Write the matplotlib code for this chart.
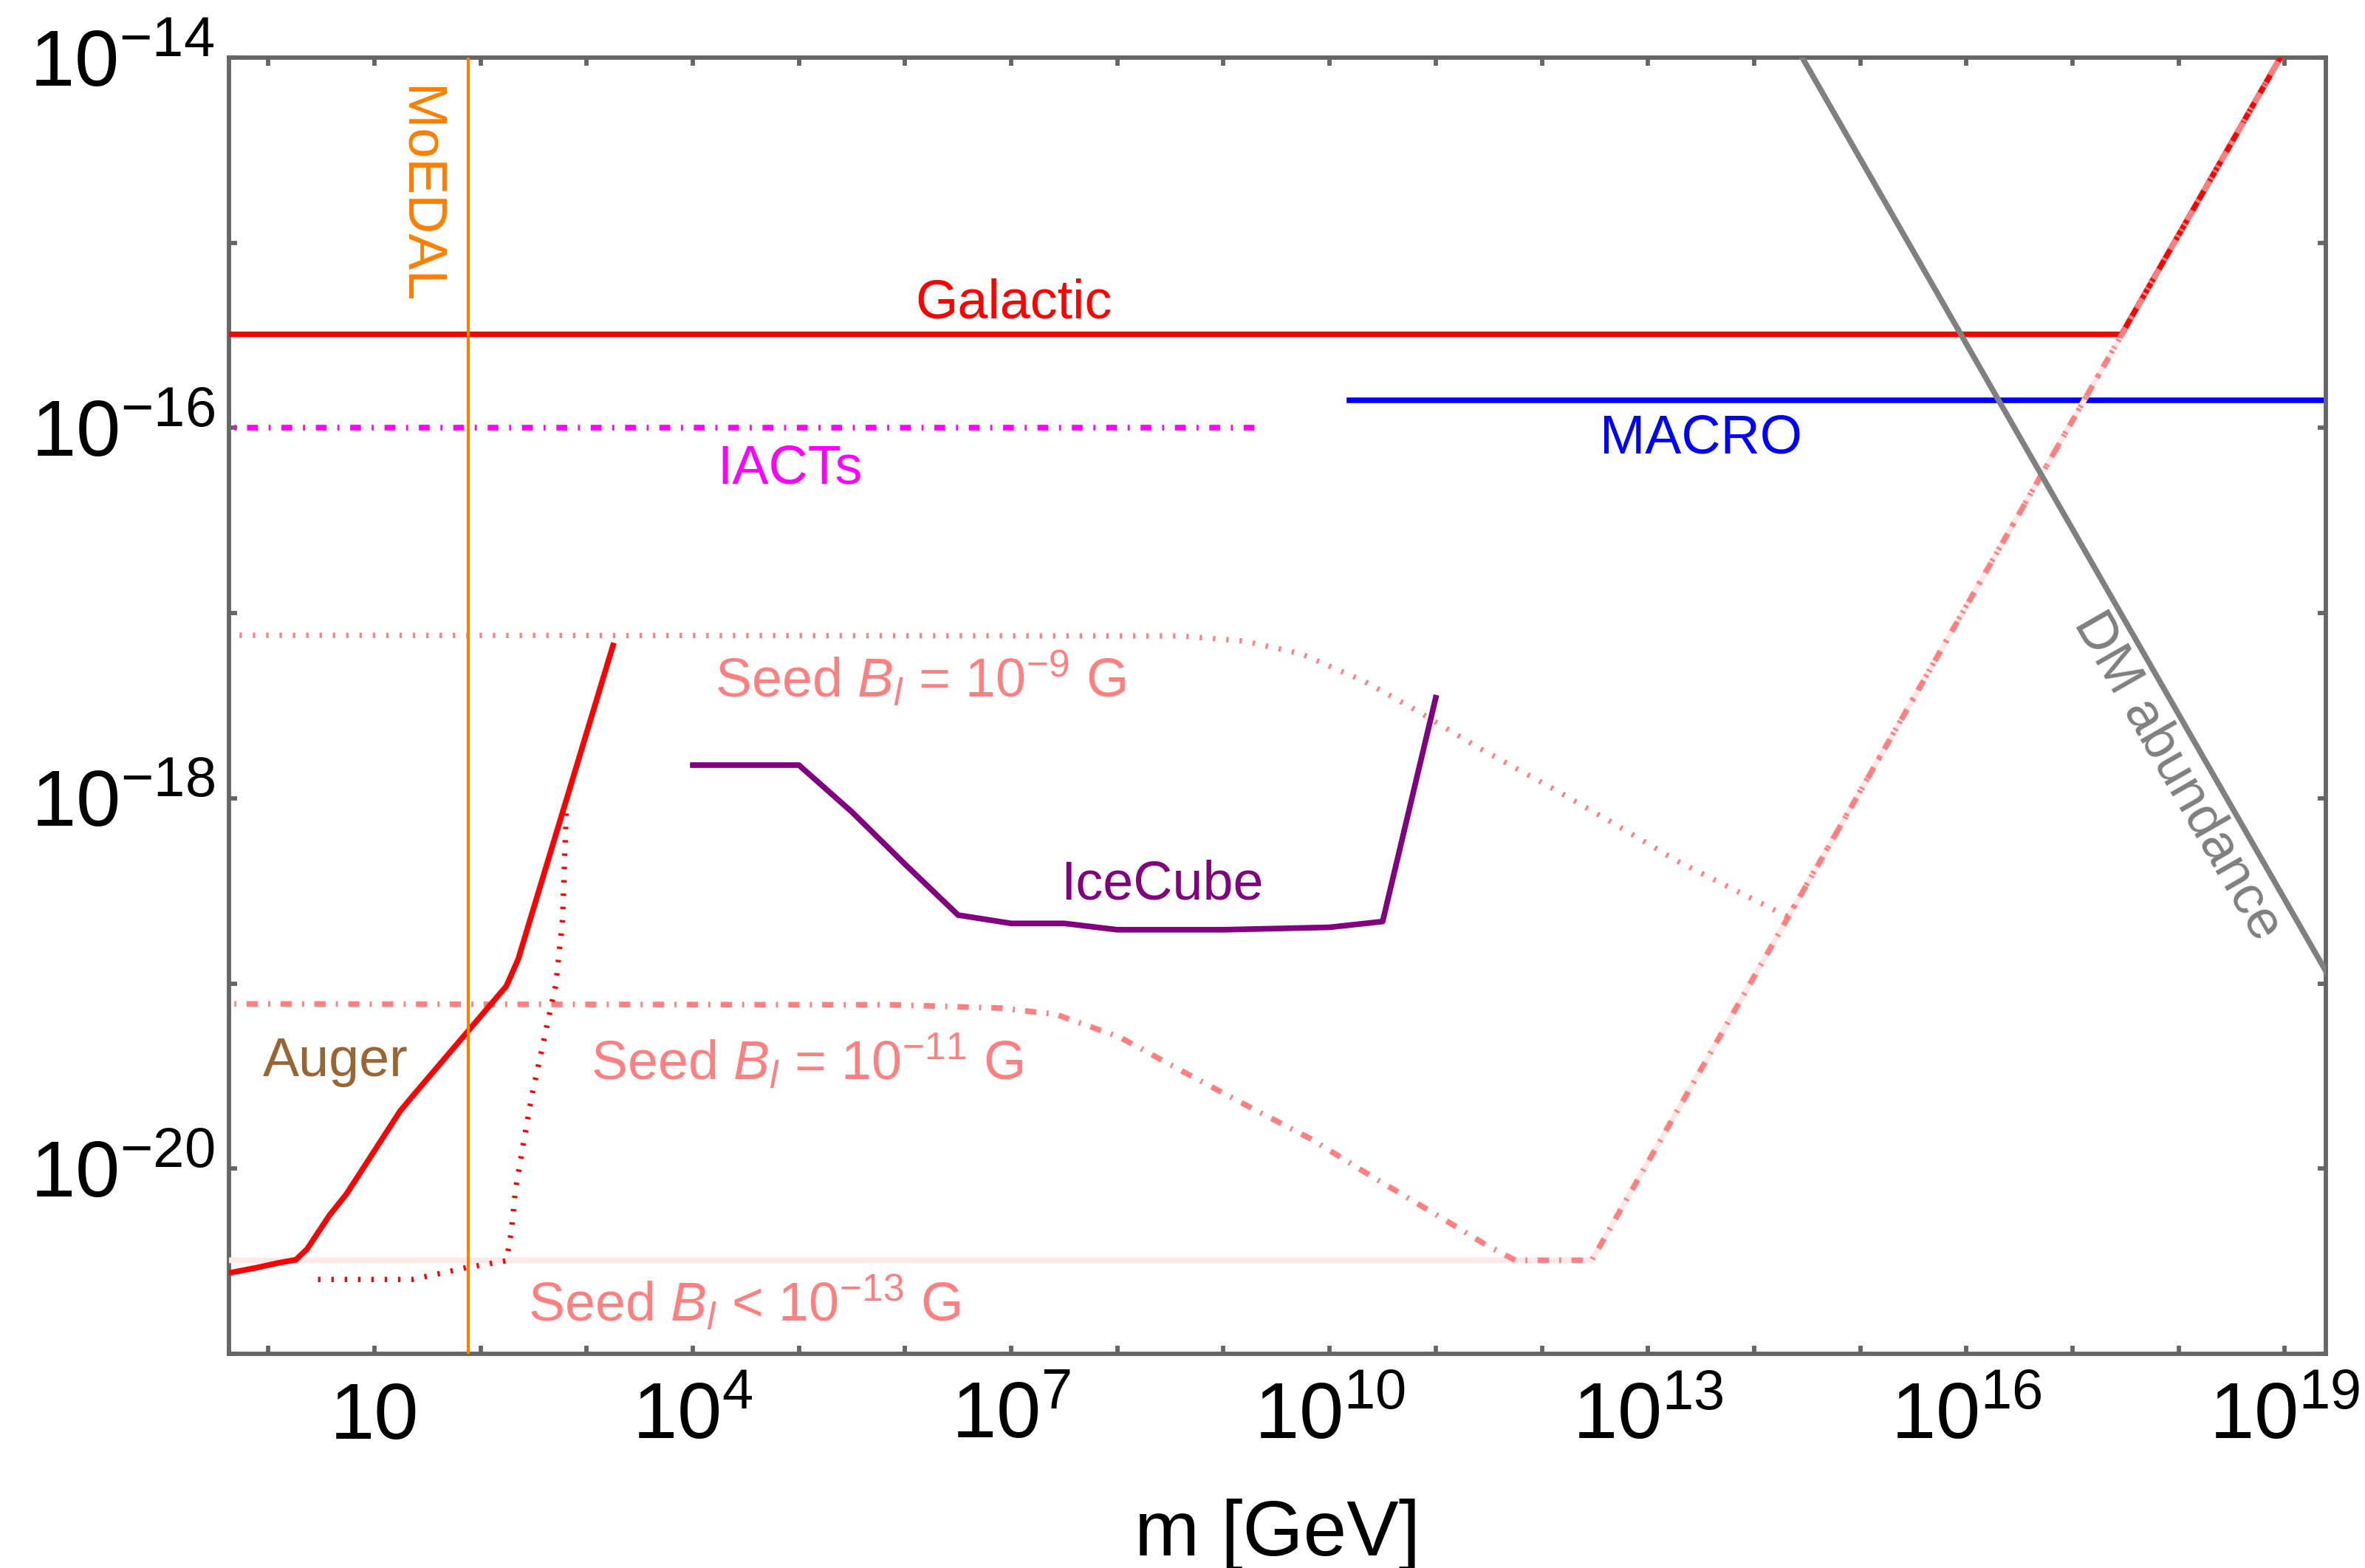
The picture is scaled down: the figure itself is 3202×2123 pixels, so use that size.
import matplotlib
matplotlib.use("Agg")
import matplotlib.pyplot as plt
from matplotlib.ticker import FixedLocator, FixedFormatter, NullLocator

plt.rcParams['font.family'] = ['Liberation Sans', 'DejaVu Sans']
plt.rcParams['mathtext.fontset'] = 'custom'
plt.rcParams['mathtext.rm'] = 'Liberation Sans'
plt.rcParams['mathtext.it'] = 'Liberation Sans:italic'
plt.rcParams['lines.scale_dashes'] = False

# ---- data: monopole mass m [GeV] vs flux bound ----
galactic_m = [0.3, 2.9e17, 3e19]
galactic_f = [3.2e-16, 3.2e-16, 3.3e-14]

iacts_m = [0.3, 2.03e9]
iacts_f = [1e-16, 1e-16]

macro_m = [1.53e10, 3e19]
macro_f = [1.41e-16, 1.41e-16]

dm_m = [1e14, 1e20]
dm_f = [2.84e-14, 2.84e-20]

moedal_m = 76.0

# seed field curves
seed13_m = [0.3, 2.95e12, 3e19]
seed13_f = [3.2e-21, 3.2e-21, 3.3e-14]

seed11_m = [0.3, 7.94e5, 7.94e6, 2.63e7, 1.05e8, 4.17e8, 1.66e9, 6.61e9,
            2.63e10, 1.02e11, 2.95e11, 5.6e11, 2.95e12, 3e19]
seed11_f = [7.76e-20, 7.66e-20, 7.36e-20, 6.81e-20, 5.13e-20, 3.34e-20, 2.19e-20,
            1.45e-20, 8.91e-21, 5.62e-21, 3.89e-21, 3.2e-21, 3.2e-21, 3.3e-14]

seed9_m = [0.3, 3.98e8, 1.58e9, 5.37e9, 2.14e10, 5.75e10, 2.51e11, 1.2e12,
           3.98e12, 1.9e13, 2.09e14, 3e19]
seed9_f = [7.59e-18, 7.52e-18, 7.06e-18, 6.03e-18, 4.27e-18, 3.12e-18, 1.88e-18,
           1.15e-18, 7.76e-19, 4.57e-19, 2.29e-19, 3.3e-14]

icecube_m = [1e4, 1e5, 3.16e5, 1e6, 3.16e6, 1e7, 3.16e7, 1e8, 1e9, 1e10, 3.16e10, 1e11]
icecube_f = [1.51e-18, 1.51e-18, 8.43e-19, 4.40e-19, 2.34e-19, 2.11e-19, 2.11e-19,
             1.95e-19, 1.95e-19, 2.01e-19, 2.16e-19, 3.49e-18]

auger_m = [0.398, 0.778, 1.22, 1.82, 2.32, 3.78, 5.42, 17.5, 23.4, 175, 226, 1770]
auger_f = [2.71e-21, 2.92e-21, 3.09e-21, 3.22e-21, 3.68e-21, 5.61e-21, 7.26e-21,
           2.05e-20, 2.50e-20, 9.68e-20, 1.35e-19, 6.68e-18]

auger_dot_m = [2.94, 22.6, 39.8, 73.5, 175, 194, 214, 251, 307, 377, 460, 512, 592, 641]
auger_dot_f = [2.52e-21, 2.52e-21, 2.70e-21, 2.92e-21, 3.18e-21, 4.50e-21, 7.76e-21,
               1.33e-20, 2.54e-20, 4.36e-20, 7.46e-20, 9.82e-20, 2.21e-19, 8.36e-19]

xtick_exps = list(range(0, 20))
xtick_labels = {1: "10", 4: "$10^{4}$", 7: "$10^{7}$", 10: "$10^{10}$",
                13: "$10^{13}$", 16: "$10^{16}$", 19: "$10^{19}$"}
ytick_exps = list(range(-21, -13))
ytick_labels = {-14: "$10^{-14}$", -16: "$10^{-16}$", -18: "$10^{-18}$", -20: "$10^{-20}$"}

# ---- colours ----
red = '#ff0000'
pink = '#ff8080'
pale = '#ffe8e8'
axis_gray = '#666666'

fig = plt.figure(figsize=(32.02, 21.23), dpi=100)
ax = fig.add_axes([0.0968, 0.1366, 0.8865, 0.8267])
ax.set_xscale('log')
ax.set_yscale('log')

lw = 5.5
ax.plot(macro_m, macro_f, color='#0000ff', lw=lw, zorder=2)
ax.plot(iacts_m, iacts_f, color='#ff00ff', lw=lw, dashes=(10.5, 10.5, 2, 10.5), zorder=2)
ax.plot(seed13_m, seed13_f, color=pale, lw=lw, zorder=3)
ax.plot(galactic_m, galactic_f, color=red, lw=lw, zorder=4)
ax.plot(seed11_m, seed11_f, color=pink, lw=lw, dashes=(11, 10, 2, 10), zorder=5)
ax.plot(seed9_m, seed9_f, color=pink, lw=5.2, dashes=(2.4, 10.6), zorder=5)
ax.plot(icecube_m, icecube_f, color='#800080', lw=lw, zorder=6)
ax.plot(auger_m, auger_f, color=red, lw=lw, zorder=6)
ax.plot(auger_dot_m, auger_dot_f, color=red, lw=5.2, dashes=(2.4, 10.6), zorder=6)
ax.plot(dm_m, dm_f, color='#808080', lw=lw, zorder=7)
ax.axvline(moedal_m, color='#ff8000', lw=3, zorder=8)

ax.set_xlim(0.4256, 2.42e19)
ax.set_ylim(1e-21, 1e-14)

# ---- labels inside the plot ----
fs = 53
ax.text(10**7.02, 10**-15.406, "Galactic", color=red, fontsize=fs, ha='center', va='baseline')
ax.text(10**4.918, 10**-16.30, "IACTs", color='#ff00ff', fontsize=fs, ha='center', va='baseline')
ax.text(10**13.5, 10**-16.138, "MACRO", color='#0000ff', fontsize=fs, ha='center', va='baseline')
ax.text(10**8.42, 10**-18.547, "IceCube", color='#800080', fontsize=fs, ha='center', va='baseline')
ax.text(10**4.21, 10**-17.454, r"Seed $B_l$ = $10^{-9}$ G", color=pink, fontsize=fs,
        ha='left', va='baseline')
ax.text(10**3.04, 10**-19.52, r"Seed $B_l$ = $10^{-11}$ G", color=pink, fontsize=fs,
        ha='left', va='baseline')
ax.text(10**2.445, 10**-20.826, r"Seed $B_l$ < $10^{-13}$ G", color=pink, fontsize=fs,
        ha='left', va='baseline')
ax.text(10**-0.05, 10**-19.50, "Auger", color='#996633', fontsize=fs, ha='left', va='baseline')
ax.text(10**1.418, 10**-14.742, "MoEDAL", color='#ff8000', fontsize=fs, rotation=270,
        ha='center', va='center', rotation_mode='anchor')
ax.text(10**17.99, 10**-17.88, "DM abundance", color='#808080', fontsize=fs, rotation=-60.2,
        ha='center', va='center', rotation_mode='anchor')

# ---- axes styling ----
ax.xaxis.set_major_locator(FixedLocator([10.0**e for e in xtick_exps]))
ax.xaxis.set_major_formatter(FixedFormatter([xtick_labels.get(e, "") for e in xtick_exps]))
ax.xaxis.set_minor_locator(NullLocator())
ax.yaxis.set_major_locator(FixedLocator([10.0**e for e in ytick_exps]))
ax.yaxis.set_major_formatter(FixedFormatter([ytick_labels.get(e, "") for e in ytick_exps]))
ax.yaxis.set_minor_locator(NullLocator())

for s in ax.spines.values():
    s.set_color(axis_gray)
    s.set_linewidth(4.2)
ax.tick_params(which='both', direction='in', length=8, width=4.2, color=axis_gray,
               top=True, right=True, labelsize=78)
ax.tick_params(axis='x', pad=83)
ax.tick_params(axis='y', pad=14)
for lab in ax.get_xticklabels():
    lab.set_va('baseline')

ax.set_xlabel("m [GeV]", fontsize=76)
ax.xaxis.label.set_va('baseline')
ax.xaxis.set_label_coords(0.5, -0.1556)

fig.savefig("out.png", dpi=100)
